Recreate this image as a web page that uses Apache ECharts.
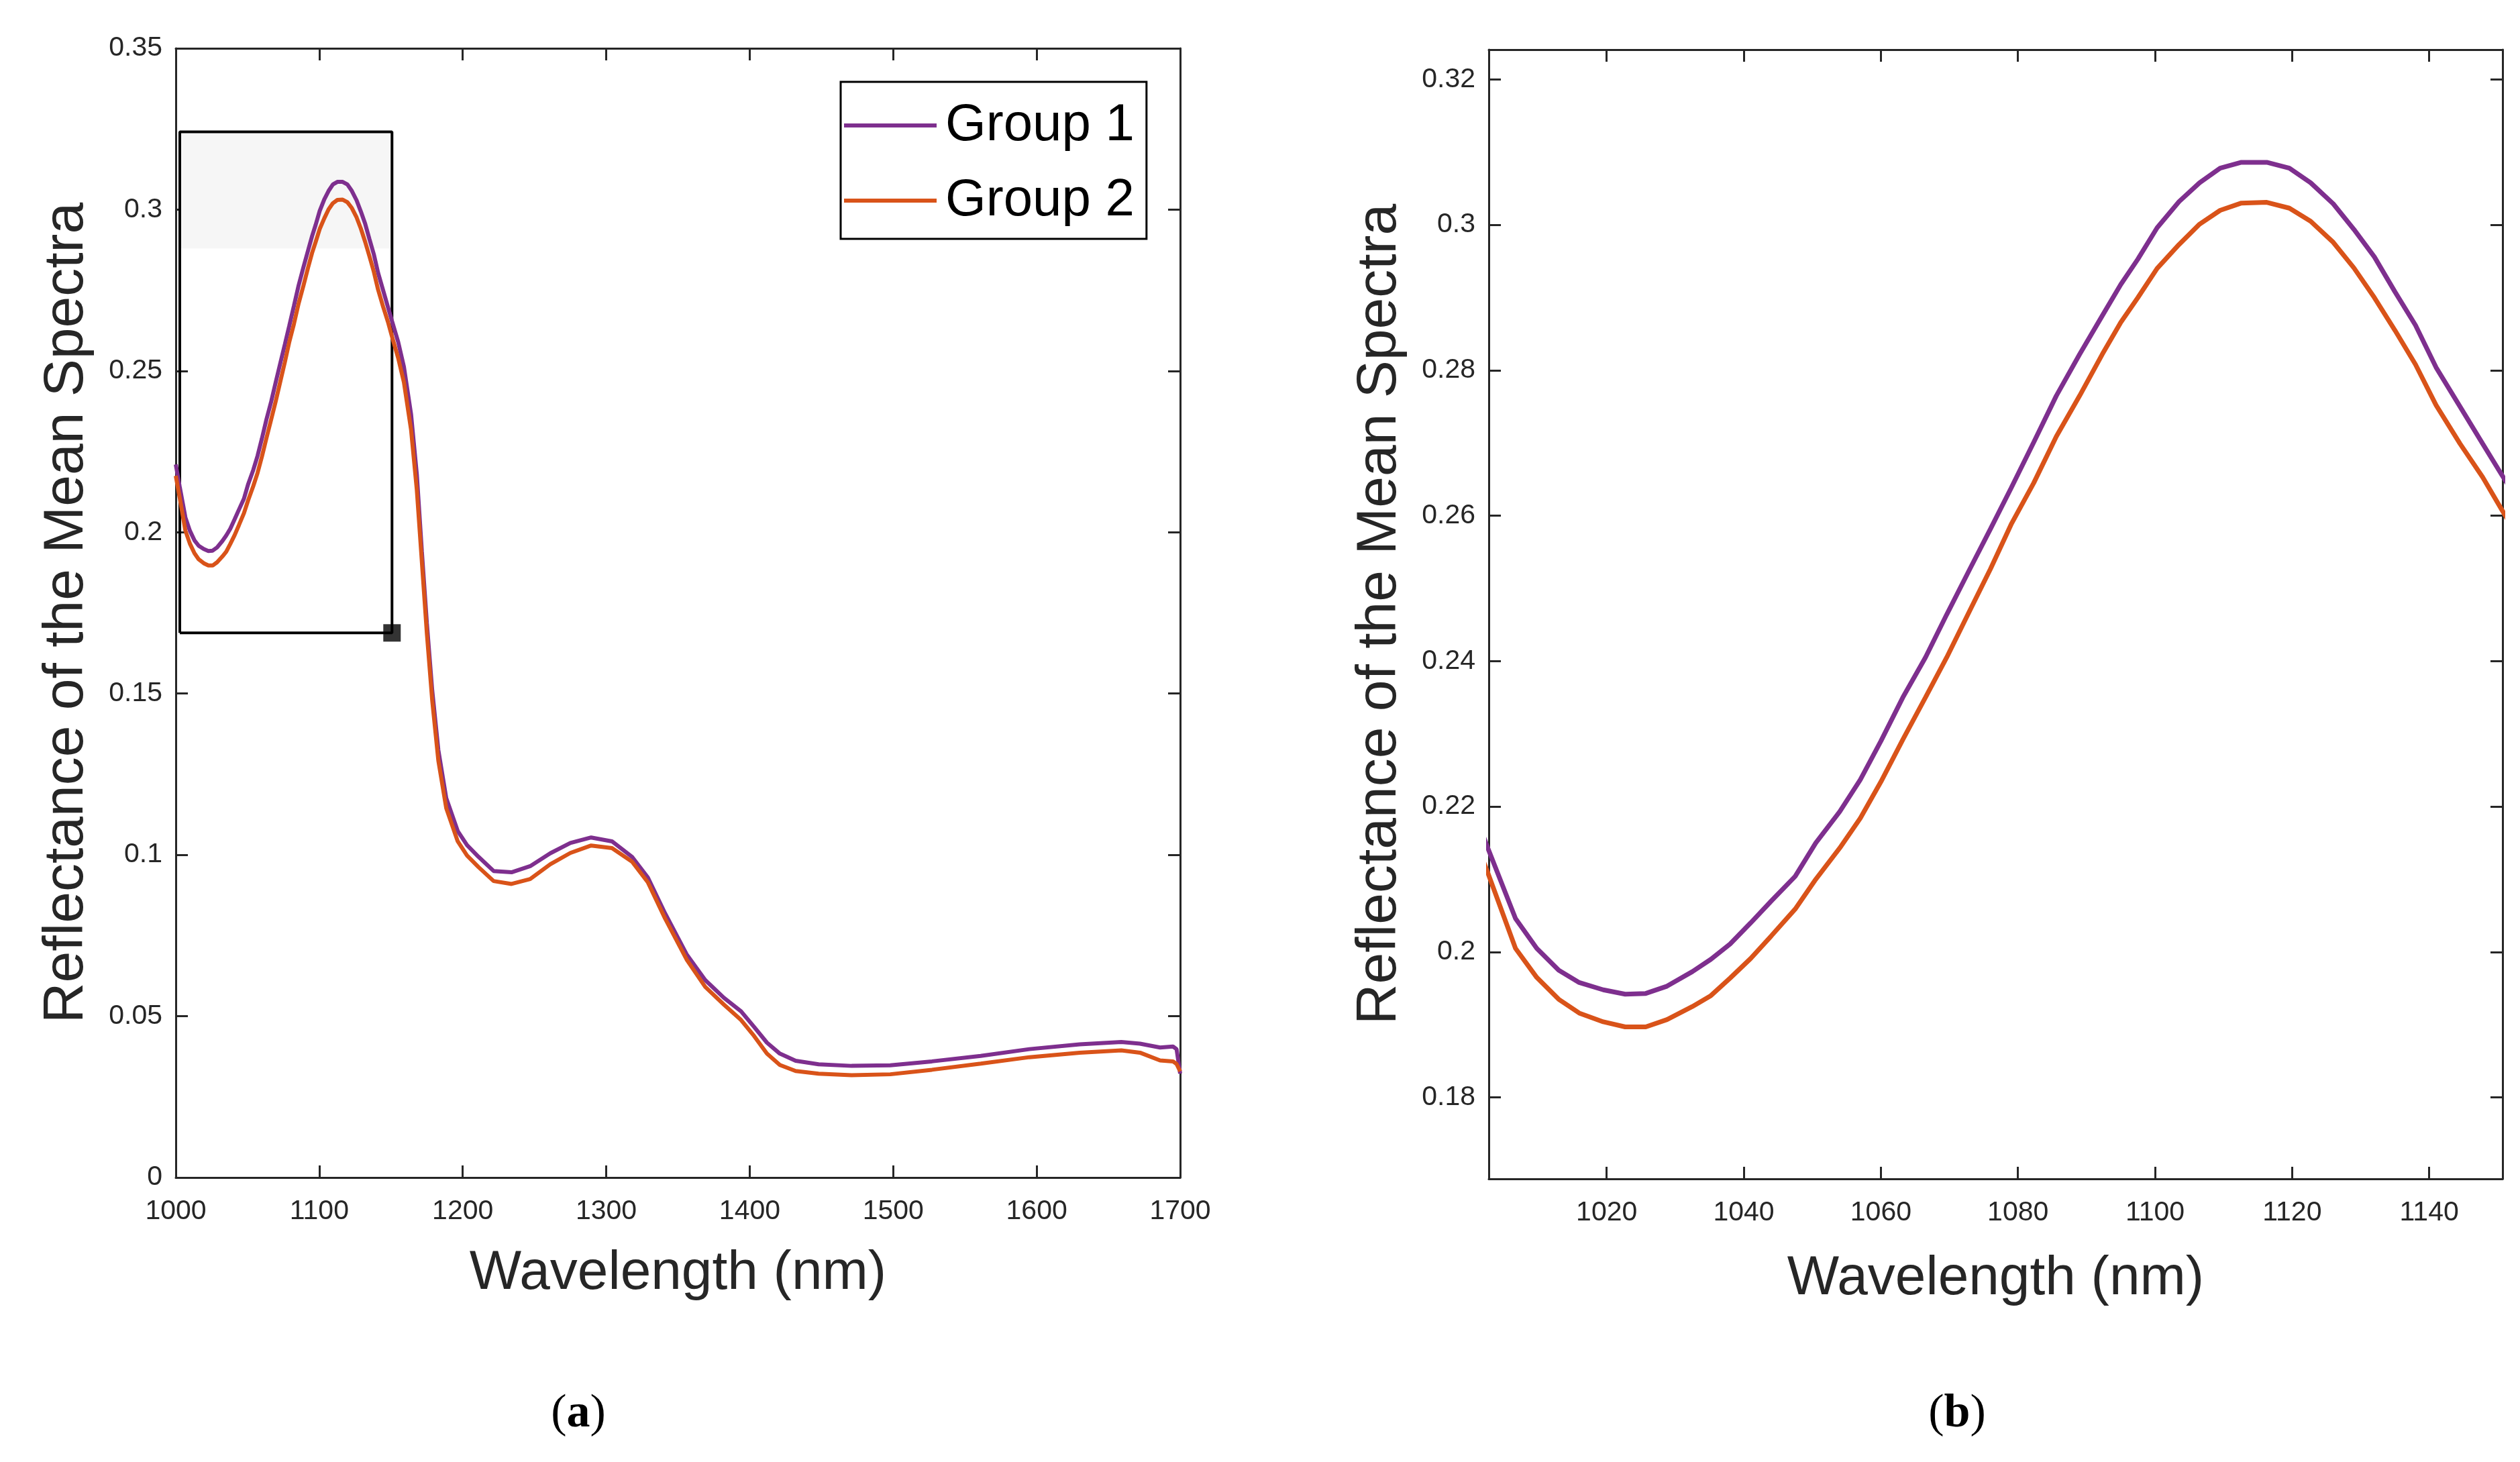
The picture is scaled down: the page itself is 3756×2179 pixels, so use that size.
<!DOCTYPE html>
<html><head><meta charset="utf-8">
<script src="https://cdn.jsdelivr.net/npm/echarts@6/dist/echarts.min.js"></script>
<style>html,body{margin:0;padding:0;background:#fff}#c{width:3756px;height:2179px}</style>
</head><body><div id="c"></div>
<script>
// ---- data ----
const wavelengths = [1000, 1002.7, 1006.7, 1009.8, 1013, 1016, 1019.5, 1022.7, 1025.7, 1028.8,
  1032.5, 1035.2, 1038, 1041, 1044, 1047.5, 1050.5, 1054, 1057, 1060,
  1063.2, 1066.5, 1069.6, 1073, 1076, 1079, 1082.3, 1085.6, 1089, 1092.3,
  1095, 1097.5, 1100.3, 1103.5, 1106.5, 1109.5, 1112.6, 1116.3, 1119.6, 1122.7,
  1126, 1129, 1132, 1135, 1138, 1141, 1144.5, 1147.8, 1150.6, 1155,
  1159, 1164, 1168, 1171.5, 1175, 1178.7, 1183, 1188.5, 1196.5, 1203,
  1211, 1221.5, 1234, 1247, 1261, 1275, 1289.5, 1304, 1318, 1329,
  1341, 1356, 1369, 1382, 1394, 1403, 1412, 1421, 1432, 1448,
  1471, 1498, 1527, 1561, 1595, 1630, 1659, 1672, 1686, 1695,
  1697.5, 1700];
const group1 = [0.2210, 0.2142, 0.2046, 0.2005, 0.1975, 0.1958, 0.1948, 0.1942, 0.1943, 0.1953,
  0.1973, 0.1990, 0.2011, 0.2040, 0.2070, 0.2104, 0.2150, 0.2193, 0.2237, 0.2290,
  0.2350, 0.2405, 0.2464, 0.2527, 0.2582, 0.2638, 0.2701, 0.2765, 0.2822, 0.2875,
  0.2918, 0.2953, 0.2996, 0.3032, 0.3058, 0.3078, 0.3086, 0.3086, 0.3078, 0.3058,
  0.3029, 0.2994, 0.2956, 0.2908, 0.2862, 0.2804, 0.2750, 0.2699, 0.2656, 0.2590,
  0.2513, 0.2365, 0.2179, 0.1941, 0.1718, 0.1511, 0.1325, 0.1176, 0.1074, 0.1030,
  0.0994, 0.0950, 0.0946, 0.0965, 0.1005, 0.1037, 0.1054, 0.1042, 0.0994, 0.0930,
  0.0819, 0.0692, 0.0612, 0.0557, 0.0515, 0.0467, 0.0418, 0.0384, 0.0362, 0.0351,
  0.0346, 0.0348, 0.0360, 0.0377, 0.0398, 0.0413, 0.0420, 0.0415, 0.0403, 0.0406,
  0.0398, 0.0322];
const group2 = [0.2175, 0.2108, 0.2005, 0.1965, 0.1935, 0.1916, 0.1904, 0.1897, 0.1897, 0.1907,
  0.1925, 0.1940, 0.1964, 0.1991, 0.2022, 0.2059, 0.2100, 0.2143, 0.2184, 0.2234,
  0.2292, 0.2350, 0.2405, 0.2470, 0.2527, 0.2588, 0.2645, 0.2709, 0.2765, 0.2822,
  0.2866, 0.2900, 0.2940, 0.2973, 0.3001, 0.3020, 0.3030, 0.3031, 0.3023, 0.3005,
  0.2976, 0.2941, 0.2900, 0.2855, 0.2808, 0.2752, 0.2699, 0.2653, 0.2608, 0.2540,
  0.2465, 0.2317, 0.2131, 0.1909, 0.1686, 0.1480, 0.1292, 0.1145, 0.1042, 0.0998,
  0.0962, 0.0919, 0.0910, 0.0925, 0.0971, 0.1006, 0.1029, 0.1021, 0.0979, 0.0915,
  0.0803, 0.0676, 0.0591, 0.0536, 0.0488, 0.0439, 0.0384, 0.0349, 0.0330, 0.0322,
  0.0317, 0.0320, 0.0334, 0.0353, 0.0373, 0.0387, 0.0394, 0.0387, 0.0363, 0.0360,
  0.0352, 0.0329];
const seriesNames = ['Group 1', 'Group 2'];
const xRangeA = [1000, 1700];
const yRangeA = [0, 0.35];
const xTicksB = [1020, 1040, 1060, 1080, 1100, 1120, 1140];
const yTicksB = [0.18, 0.2, 0.22, 0.24, 0.26, 0.28, 0.3, 0.32];
const zoomX = [1002.8, 1150.7];
const zoomY = [0.1688, 0.3241];
const shadeYMin = 0.288;

// ---- styling ----
const FONT = '"Liberation Sans", Arial, Helvetica, sans-serif';
const SERIF = '"Liberation Serif", "Times New Roman", serif';
const AX = '#262626';
const C1 = '#7E2F8E', C2 = '#D95319';
const pairs = arr => wavelengths.map((w, i) => [w, arr[i]]);
const fmt = v => String(+(+v).toFixed(2));

function axisCommon(showLabel) {
  return {
    type: 'value',
    axisLine: { show: true, onZero: false, lineStyle: { color: AX, width: 3 } },
    axisTick: { show: true, inside: true, length: 18, lineStyle: { color: AX, width: 3 } },
    splitLine: { show: false },
    axisLabel: { show: showLabel, color: AX, fontFamily: FONT, fontSize: 41, formatter: fmt }
  };
}

const chart = echarts.init(document.getElementById('c'), null, { renderer: 'canvas' });

const xA = Object.assign(axisCommon(true), { gridIndex: 0, position: 'bottom', min: xRangeA[0], max: xRangeA[1], interval: 100,
  name: 'Wavelength (nm)', nameLocation: 'middle', nameGap: 102,
  nameTextStyle: { fontFamily: FONT, fontSize: 82, color: AX } });
xA.axisLabel.margin = 30;
const xAtop = Object.assign(axisCommon(false), { gridIndex: 0, position: 'top', min: xRangeA[0], max: xRangeA[1], interval: 100 });
const yA = Object.assign(axisCommon(true), { gridIndex: 0, position: 'left', min: yRangeA[0], max: yRangeA[1], interval: 0.05,
  name: 'Reflectance of the Mean Spectra', nameLocation: 'middle', nameGap: 120, nameRotate: 90,
  nameTextStyle: { fontFamily: FONT, fontSize: 84, color: AX } });
yA.axisLabel.margin = 20;
const yAright = Object.assign(axisCommon(false), { gridIndex: 0, position: 'right', min: yRangeA[0], max: yRangeA[1], interval: 0.05 });

const xB = Object.assign(axisCommon(true), { gridIndex: 1, position: 'bottom', min: zoomX[0], max: zoomX[1],
  name: 'Wavelength (nm)', nameLocation: 'middle', nameGap: 108,
  nameTextStyle: { fontFamily: FONT, fontSize: 82, color: AX } });
xB.axisLabel.customValues = xTicksB; xB.axisLabel.margin = 30;
xB.axisTick.customValues = xTicksB;
const xBtop = Object.assign(axisCommon(false), { gridIndex: 1, position: 'top', min: zoomX[0], max: zoomX[1] });
xBtop.axisTick.customValues = xTicksB; xBtop.axisLabel.customValues = xTicksB;
const yB = Object.assign(axisCommon(true), { gridIndex: 1, position: 'left', min: zoomY[0], max: zoomY[1],
  name: 'Reflectance of the Mean Spectra', nameLocation: 'middle', nameGap: 120, nameRotate: 90,
  nameTextStyle: { fontFamily: FONT, fontSize: 84, color: AX } });
yB.axisLabel.customValues = yTicksB; yB.axisLabel.margin = 20;
yB.axisTick.customValues = yTicksB;
const yBright = Object.assign(axisCommon(false), { gridIndex: 1, position: 'right', min: zoomY[0], max: zoomY[1] });
yBright.axisTick.customValues = yTicksB; yBright.axisLabel.customValues = yTicksB;

function lineSeries(name, data, color, xi, yi, w) {
  return { name, type: 'line', data, xAxisIndex: xi, yAxisIndex: yi, symbol: 'none', showSymbol: false,
    lineStyle: { color, width: w }, itemStyle: { color }, clip: true, animation: false, z: 3 };
}

function panelTitle(letter, x) {
  return { text: '({b|' + letter + '})', left: x, top: 2068, textAlign: 'center',
    textStyle: { fontFamily: SERIF, fontSize: 70, fontWeight: 'normal', color: '#000',
      rich: { b: { fontFamily: SERIF, fontSize: 70, fontWeight: 'bold', color: '#000' } } } };
}

const option = {
  backgroundColor: '#ffffff',
  animation: false,
  grid: [
    { left: 262, top: 72, width: 1497, height: 1683, containLabel: false },
    { left: 2219, top: 74, width: 1511, height: 1683, containLabel: false }
  ],
  xAxis: [xA, xAtop, xB, xBtop],
  yAxis: [yA, yAright, yB, yBright],
  legend: {
    data: seriesNames, orient: 'vertical', left: 1253, top: 122,
    icon: 'rect', itemWidth: 138, itemHeight: 6, itemGap: 22,
    padding: [20, 18, 12, 5], borderColor: '#000', borderWidth: 3, backgroundColor: '#fff',
    selectedMode: false,
    textStyle: { fontFamily: FONT, fontSize: 78, lineHeight: 90, color: '#000', padding: [0, 0, 0, 8] }
  },
  title: [panelTitle('a', 857), panelTitle('b', 2912)],
  series: [
    {
      name: 'zoom box', type: 'line', xAxisIndex: 0, yAxisIndex: 0, symbol: 'none', z: 2,
      data: [[zoomX[0], zoomY[0]], [zoomX[1], zoomY[0]], [zoomX[1], zoomY[1]], [zoomX[0], zoomY[1]], [zoomX[0], zoomY[0]]],
      lineStyle: { color: '#000', width: 4 }, itemStyle: { color: '#000' },
      markArea: { silent: true, itemStyle: { color: '#f6f6f6' },
        data: [[{ coord: [zoomX[0], shadeYMin] }, { coord: [zoomX[1], zoomY[1]] }]] }
    },
    lineSeries(seriesNames[0], pairs(group1), C1, 0, 0, 6),
    lineSeries(seriesNames[1], pairs(group2), C2, 0, 0, 6),
    lineSeries(seriesNames[0], pairs(group1), C1, 2, 2, 7),
    lineSeries(seriesNames[1], pairs(group2), C2, 2, 2, 7),
    {
      name: 'zoom corner', type: 'scatter', xAxisIndex: 0, yAxisIndex: 0, z: 4,
      data: [[zoomX[1], zoomY[0]]], symbol: 'rect', symbolSize: 26, itemStyle: { color: '#000' }
    }
  ]
};
chart.setOption(option);
</script>
</body></html>
